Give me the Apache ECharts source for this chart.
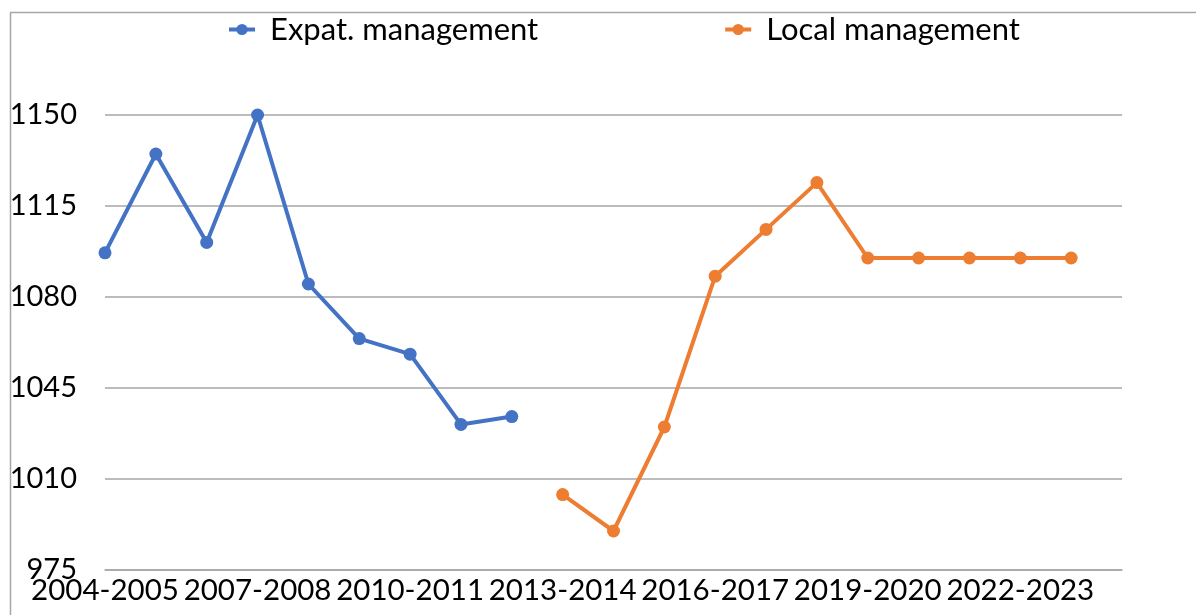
<!DOCTYPE html>
<html>
<head>
<meta charset="utf-8">
<script src="https://cdn.jsdelivr.net/npm/echarts@6/dist/echarts.min.js"></script>
<style>
  html, body { margin: 0; padding: 0; background: #fff; }
  #chart { width: 1196px; height: 615px; }
</style>
</head>
<body>
<div id="chart"></div>
<script>
  // seasons on the x axis (last one has no data)
  var seasons = ['2004-2005', '2005-2006', '2006-2007', '2007-2008', '2008-2009', '2009-2010',
    '2010-2011', '2011-2012', '2012-2013', '2013-2014', '2014-2015', '2015-2016', '2016-2017',
    '2017-2018', '2018-2019', '2019-2020', '2020-2021', '2021-2022', '2022-2023', '2023-2024',
    '2024-2025'];
  var expatValues = [1097, 1135, 1101, 1150, 1085, 1064, 1058, 1031, 1034,
    null, null, null, null, null, null, null, null, null, null, null, null];
  var localValues = [null, null, null, null, null, null, null, null, null,
    1004, 990, 1030, 1088, 1106, 1124, 1095, 1095, 1095, 1095, 1095, null];
  var yTicks = [975, 1010, 1045, 1080, 1115, 1150];

  var font = 'Lato, "Liberation Sans", sans-serif';
  var chart = echarts.init(document.getElementById('chart'));
  chart.setOption({
    animation: false,
    color: ['#4472C4', '#ED7D31'],
    graphic: [{
      // frame of the chart area
      type: 'rect',
      left: 8, top: 10,
      shape: { width: 1400, height: 800 },
      style: { fill: 'none', stroke: '#a6a6a6', lineWidth: 1.5 },
      silent: true
    }],
    legend: {
      left: 222,
      top: 9,
      itemWidth: 26,
      itemHeight: 14,
      itemGap: 185,
      lineStyle: { width: 4 },
      textStyle: { fontFamily: font, fontSize: 31, color: '#000', padding: [0, 0, 0, 10] },
      data: ['Expat. management', 'Local management']
    },
    grid: { left: 105, right: 74, top: 115, bottom: 45 },
    xAxis: {
      type: 'category',
      data: seasons,
      boundaryGap: false,
      axisLine: { lineStyle: { color: '#a6a6a6', width: 1.5 } },
      axisTick: { show: false },
      axisLabel: {
        interval: 2,
        margin: 5,
        fontFamily: font,
        fontSize: 29.5,
        color: '#000'
      },
      splitLine: { show: false }
    },
    yAxis: {
      type: 'value',
      min: yTicks[0],
      max: yTicks[yTicks.length - 1],
      interval: 35,
      axisLine: { show: false },
      axisTick: { show: false },
      axisLabel: {
        margin: 28,
        fontFamily: font,
        fontSize: 29,
        color: '#000',
        formatter: function (v) { return String(v); }
      },
      splitLine: { lineStyle: { color: '#a6a6a6', width: 1.5 } }
    },
    series: [{
      name: 'Expat. management',
      type: 'line',
      data: expatValues,
      symbol: 'circle',
      symbolSize: 13,
      lineStyle: { width: 4 },
      connectNulls: false
    }, {
      name: 'Local management',
      type: 'line',
      data: localValues,
      symbol: 'circle',
      symbolSize: 13,
      lineStyle: { width: 4 },
      connectNulls: false
    }]
  });
</script>
</body>
</html>
